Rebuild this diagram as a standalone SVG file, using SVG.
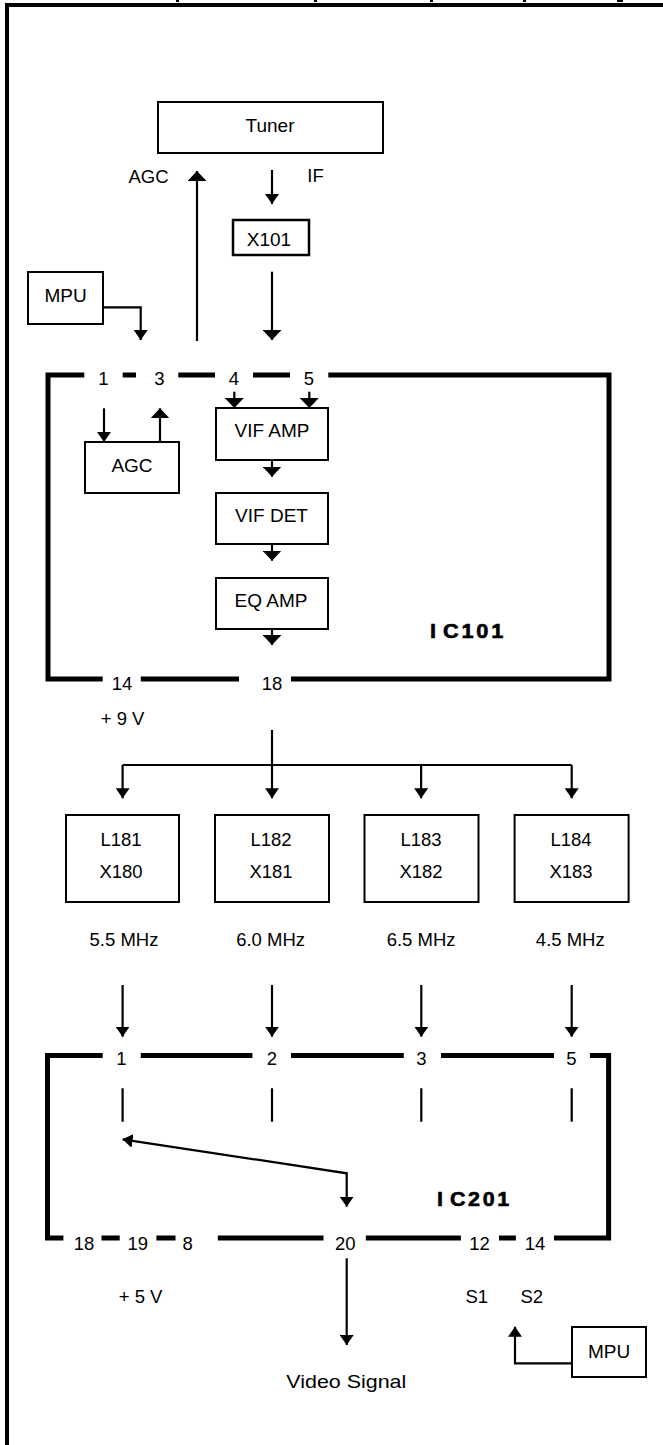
<svg xmlns="http://www.w3.org/2000/svg" width="663" height="1445" viewBox="0 0 663 1445">
<defs>
<style>
.box{fill:#fff;stroke:#000;stroke-width:2}
.ic{fill:none;stroke:#000;stroke-width:5;stroke-linejoin:miter}
.ln{fill:none;stroke:#000;stroke-width:2.2}
.t{font-family:"Liberation Sans",Arial,sans-serif;font-size:18.5px;text-anchor:middle;fill:#000}
.bt{font-family:"Liberation Sans",Arial,sans-serif;font-size:19px;text-anchor:middle;fill:#000}
.pn{font-family:"Liberation Sans",Arial,sans-serif;font-size:18.5px;text-anchor:middle;fill:#000}
.icl{font-family:"Liberation Sans",Arial,sans-serif;font-size:20px;font-weight:bold;letter-spacing:2.5px;fill:#000;stroke:#000;stroke-width:0.6}
.s{marker-end:url(#as)}
.g{marker-end:url(#ab)}
</style>
<marker id="as" markerUnits="userSpaceOnUse" viewBox="0 0 10 14" refX="10" refY="7" markerWidth="10" markerHeight="14" orient="auto-start-reverse"><path d="M0,0 L10,7 L0,14 Z" fill="#000"/></marker>
<marker id="ab" markerUnits="userSpaceOnUse" viewBox="0 0 10 19" refX="10" refY="9.5" markerWidth="10" markerHeight="19" orient="auto-start-reverse"><path d="M0,0 L10,9.5 L0,19 Z" fill="#000"/></marker>
</defs>
<rect width="663" height="1445" fill="#fff"/>
<g id="frame">
<path d="M7,1445 V5 H663" fill="none" stroke="#000" stroke-width="4"/>
<rect x="176" y="0" width="3" height="2" fill="#000"/>
<rect x="314" y="0" width="3" height="2" fill="#000"/>
<rect x="430" y="0" width="3" height="2" fill="#000"/>
<rect x="523" y="0" width="3" height="2" fill="#000"/>
<rect x="617" y="0" width="6" height="2" fill="#000"/>
</g>
<g id="tuner"><rect class="box" x="158" y="102" width="225" height="51"/><text class="bt" x="270" y="131.5">Tuner</text></g>
<g id="x101"><rect class="box" x="233" y="220" width="76" height="35" style="stroke-width:2.5"/><text class="bt" x="269" y="246">X101</text></g>
<g id="mpu1"><rect class="box" x="28" y="272" width="75" height="52"/><text class="bt" x="65.5" y="302">MPU</text></g>
<g id="ic101">
<path class="ic" d="M84.3,375 H48 V679 H102.7 M140.8,679 H239 M291,679 H609 V375 H328.3 M122.7,375 H136 M178.3,375 H215 M253,375 H290"/>
<text class="pn" x="103.5" y="385">1</text>
<text class="pn" x="159.5" y="385">3</text>
<text class="pn" x="234" y="385">4</text>
<text class="pn" x="309" y="385">5</text>
<text class="pn" x="122" y="690">14</text>
<text class="pn" x="272" y="690">18</text>
<text class="icl" x="430" y="638" textLength="76" lengthAdjust="spacingAndGlyphs">I<tspan dx="4">C101</tspan></text>
</g>
<g id="agc"><rect class="box" x="85" y="442" width="94" height="51"/><text class="bt" x="132" y="471.5">AGC</text></g>
<g id="vifamp"><rect class="box" x="216" y="408" width="112" height="52"/><text class="bt" x="272" y="436.5">VIF AMP</text></g>
<g id="vifdet"><rect class="box" x="216" y="493" width="112" height="51"/><text class="bt" x="271.5" y="521.5">VIF DET</text></g>
<g id="eqamp"><rect class="box" x="216" y="578" width="112" height="51"/><text class="bt" x="271" y="607">EQ AMP</text></g>
<g id="l181"><rect class="box" x="66" y="815" width="113" height="87"/><text class="t" x="121" y="845.5">L181</text><text class="t" x="121" y="878">X180</text></g>
<g id="l182"><rect class="box" x="215" y="815" width="114" height="87"/><text class="t" x="271" y="845.5">L182</text><text class="t" x="271" y="878">X181</text></g>
<g id="l183"><rect class="box" x="364.5" y="815" width="114" height="87"/><text class="t" x="421" y="845.5">L183</text><text class="t" x="421" y="878">X182</text></g>
<g id="l184"><rect class="box" x="514.6" y="815" width="114" height="87"/><text class="t" x="571" y="845.5">L184</text><text class="t" x="571" y="878">X183</text></g>
<g id="ic201">
<path class="ic" d="M102.7,1055.5 H47.5 V1238 H63.4 M140.8,1055.5 H252.4 M291,1055.5 H403.8 M441,1055.5 H554 M589.9,1055.5 H608.6 V1238 H554 M101.5,1238 H119.7 M156.4,1238 H175.5 M217.8,1238 H323.5 M365.8,1238 H460.9 M499,1238 H515.9"/>
<text class="pn" x="121.5" y="1065">1</text>
<text class="pn" x="272" y="1065">2</text>
<text class="pn" x="421.3" y="1065">3</text>
<text class="pn" x="571.5" y="1065">5</text>
<text class="pn" x="84" y="1250">18</text>
<text class="pn" x="137.8" y="1250">19</text>
<text class="pn" x="187.7" y="1250">8</text>
<text class="pn" x="345.2" y="1250">20</text>
<text class="pn" x="479.5" y="1250">12</text>
<text class="pn" x="535" y="1250">14</text>
<text class="icl" x="437" y="1206" textLength="75" lengthAdjust="spacingAndGlyphs">I<tspan dx="4">C201</tspan></text>
</g>
<g id="mpu2"><rect class="box" x="572" y="1327" width="74" height="50"/><text class="bt" x="609" y="1358">MPU</text></g>
<g id="labels">
<text class="t" x="148.5" y="183">AGC</text>
<text class="t" x="315.5" y="182">IF</text>
<text class="t" x="122.6" y="725">+ 9 V</text>
<text class="t" x="124" y="946">5.5 MHz</text>
<text class="t" x="270.6" y="946">6.0 MHz</text>
<text class="t" x="421.1" y="946">6.5 MHz</text>
<text class="t" x="570.3" y="946">4.5 MHz</text>
<text class="t" x="140.6" y="1303">+ 5 V</text>
<text class="t" x="476.8" y="1303">S1</text>
<text class="t" x="531.8" y="1303">S2</text>
<text class="t" x="346.3" y="1388" textLength="120" lengthAdjust="spacingAndGlyphs">Video Signal</text>
</g>
<g id="connectors">
<path class="ln g" d="M197,341 V171"/>
<path class="ln s" d="M272,170 V204"/>
<path class="ln g" d="M272,271.7 V340"/>
<path class="ln" style="marker-end:url(#as)" d="M103.3,307.3 H140.7 V340"/>
<path class="ln s" d="M104,408.3 V442"/>
<path class="ln g" d="M160,442 V408.3"/>
<path class="ln g" d="M234.3,391.7 V408"/>
<path class="ln g" d="M309.3,391.7 V408"/>
<path class="ln g" d="M272,460 V476.7"/>
<path class="ln g" d="M272,544 V560.7"/>
<path class="ln g" d="M272,629 V645"/>
<path class="ln s" d="M272,730 V798.3"/>
<path class="ln" d="M122.6,765 H571.7"/>
<path class="ln s" d="M122.6,765 V798.3"/>
<path class="ln s" d="M421.1,765 V798.3"/>
<path class="ln s" d="M571.7,765 V798.3"/>
<path class="ln s" d="M122.6,985 V1036.7"/>
<path class="ln s" d="M272,985 V1036.7"/>
<path class="ln s" d="M421.3,985 V1036.7"/>
<path class="ln s" d="M571.7,985 V1036.7"/>
<path class="ln" d="M122.6,1088.3 V1121.7 M272,1088.3 V1121.7 M421.3,1088.3 V1121.7 M571.7,1088.3 V1121.7"/>
<path class="ln s" style="marker-start:url(#as)" d="M122.6,1139.3 L346.7,1173.3 V1206.7"/>
<path class="ln s" d="M346.7,1258.3 V1345"/>
<path class="ln s" d="M571.7,1363.3 H515 V1326.7"/>
</g>
</svg>
